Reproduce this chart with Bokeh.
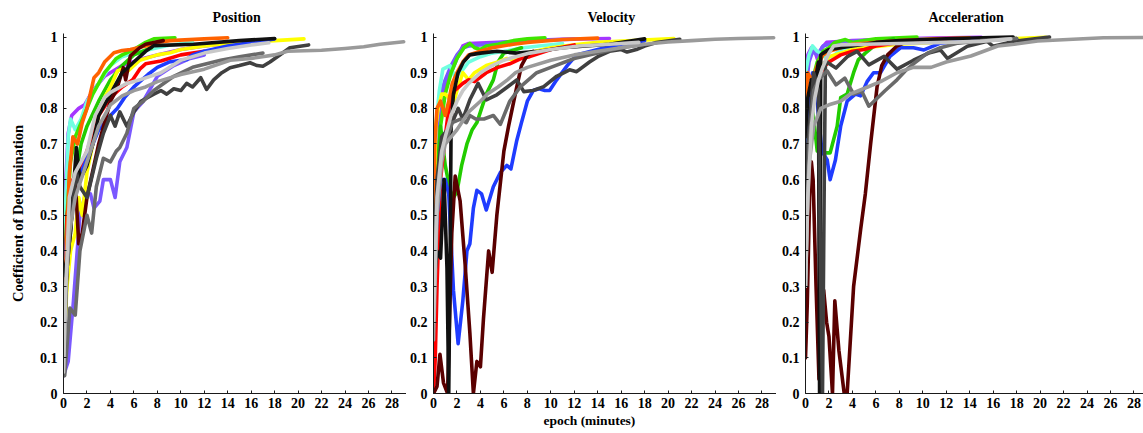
from bokeh.plotting import figure
from bokeh.layouts import row
from bokeh.models import FixedTicker, ColumnDataSource, Title
from bokeh.embed import file_html
from bokeh.resources import INLINE

# ---------------- labels ----------------
PANEL_TITLES = ["Position", "Velocity", "Acceleration"]
Y_LABEL = "Coefficient of Determination"
X_LABEL = "epoch (minutes)"
X_TICKS = [0, 2, 4, 6, 8, 10, 12, 14, 16, 18, 20, 22, 24, 26, 28]
Y_TICKS = [0, 0.1, 0.2, 0.3, 0.4, 0.5, 0.6, 0.7, 0.8, 0.9, 1.0]
Y_TICK_LABELS = ["0", "0.1", "0.2", "0.3", "0.4", "0.5", "0.6", "0.7", "0.8", "0.9", "1"]

# series draw order and colours
SERIES = ["purple", "slateblue", "cyan", "lime", "green", "yellow", "red", "blue",
          "orange", "maroon", "black", "darkgrey", "grey", "midgrey", "lightgrey"]
COLORS = ["#a535ff", "#7a58ff", "#70ffe0", "#3ee600", "#22cc00", "#ffff00", "#ff0000", "#1f3cff",
          "#ff6200", "#5a0000", "#101010", "#404040", "#6a6a6a", "#9a9a9a", "#c8c8c8"]

# ---------------- Position: (epoch minutes, R^2) ----------------
pos_purple = [(0, 0.3), (0.1, 0.45), (0.2, 0.6), (0.4, 0.73), (0.7, 0.78), (1.3, 0.8), (1.8, 0.81), (2.5, 0.85),
              (3.5, 0.89), (5, 0.92), (6.8, 0.94), (8, 0.95), (10, 0.965), (12, 0.975), (15, 0.985)]
pos_slateblue = [(0, 0.05), (0.2, 0.07), (0.4, 0.09), (0.85, 0.26), (1.4, 0.5), (1.8, 0.55), (2.3, 0.56),
                 (2.6, 0.52), (3.1, 0.54), (3.4, 0.6), (4, 0.6), (4.4, 0.55), (4.8, 0.65), (5.4, 0.69),
                 (6, 0.79), (6.8, 0.82), (8, 0.89), (9.4, 0.92), (10.8, 0.94), (12, 0.95)]
pos_cyan = [(0, 0.3), (0.2, 0.55), (0.4, 0.72), (0.6, 0.77), (1, 0.74), (1.5, 0.77), (2, 0.82), (3, 0.87),
            (4, 0.92), (5, 0.945), (6, 0.955), (7, 0.962), (8, 0.97), (9, 0.977), (11, 0.985)]
pos_lime = [(0, 0.3), (0.3, 0.5), (0.6, 0.65), (1, 0.72), (1.5, 0.76), (2, 0.8), (2.5, 0.84), (3, 0.87),
            (3.5, 0.9), (4, 0.92), (4.5, 0.94), (5, 0.95), (6, 0.965), (7, 0.985), (7.7, 0.995), (9.5, 0.998)]
pos_green = [(0, 0.25), (0.5, 0.45), (1, 0.6), (1.5, 0.7), (2, 0.75), (3, 0.82), (4, 0.88), (5, 0.92),
             (6, 0.95), (7.5, 0.97)]
pos_yellow = [(0, 0.12), (0.3, 0.3), (0.6, 0.4), (1, 0.45), (1.3, 0.55), (1.6, 0.5), (2, 0.62), (2.5, 0.7),
              (3, 0.78), (3.5, 0.83), (4, 0.86), (4.6, 0.905), (5, 0.91), (5.5, 0.905), (6.5, 0.935),
              (8, 0.95), (9.1, 0.956), (10, 0.965), (12, 0.975), (14, 0.982), (16, 0.987), (18, 0.99), (20.5, 0.995)]
pos_red = [(0, 0.15), (0.15, 0.35), (0.3, 0.5), (0.5, 0.55), (0.8, 0.6), (1.2, 0.62), (2, 0.68), (3, 0.78),
           (4, 0.83), (5, 0.86), (5.9, 0.88), (6.5, 0.91), (7, 0.925), (8.3, 0.933), (9, 0.94), (10, 0.95), (12, 0.96)]
pos_blue = [(0, 0.3), (0.3, 0.45), (0.6, 0.55), (1, 0.6), (1.5, 0.62), (2, 0.66), (3, 0.74), (4, 0.78),
            (4.6, 0.8), (5.2, 0.83), (6, 0.86), (7.2, 0.895), (8, 0.915), (9, 0.93), (10.5, 0.937), (11, 0.95),
            (12, 0.96), (14, 0.975), (16, 0.985), (18, 0.995)]
pos_orange = [(0, 0.2), (0.3, 0.45), (0.5, 0.62), (0.8, 0.72), (1.2, 0.7), (1.6, 0.76), (2, 0.8), (2.6, 0.886),
              (3, 0.9), (3.5, 0.93), (4.3, 0.956), (5, 0.962), (5.7, 0.965), (7, 0.975), (8, 0.985),
              (9.1, 0.99), (12, 0.995), (14, 0.998)]
pos_maroon = [(0, 0.2), (0.3, 0.35), (0.7, 0.5), (1, 0.6), (1.3, 0.42), (1.6, 0.45), (2, 0.55), (3, 0.7),
              (4, 0.82), (4.5, 0.85), (5.1, 0.914), (5.3, 0.88), (5.7, 0.947), (6.5, 0.97), (7, 0.98), (8.5, 0.99)]
pos_black = [(0, 0.33), (0.3, 0.38), (0.6, 0.45), (0.8, 0.55), (1.1, 0.69), (1.4, 0.6), (2, 0.64), (2.5, 0.7),
             (3, 0.78), (4, 0.84), (5, 0.9), (6, 0.93), (7, 0.96), (7.7, 0.976), (11.1, 0.98), (15, 0.99),
             (18, 0.996)]
pos_darkgrey = [(0, 0.05), (0.3, 0.35), (0.7, 0.5), (1.1, 0.62), (1.4, 0.58), (2, 0.55), (2.8, 0.66),
                (3.4, 0.73), (4, 0.78), (4.4, 0.75), (4.8, 0.79), (5.4, 0.75), (6, 0.79), (6.6, 0.82),
                (7.7, 0.84), (8.3, 0.85), (8.8, 0.84), (9.4, 0.855), (10, 0.85), (10.5, 0.87), (11, 0.86),
                (11.7, 0.886), (12.2, 0.853), (12.8, 0.88), (13.5, 0.9), (14.2, 0.914), (15, 0.92), (15.9, 0.928),
                (16.5, 0.92), (17, 0.918), (17.6, 0.93), (18.5, 0.951), (19.3, 0.97), (20.9, 0.978)]
pos_grey = [(0, 0.05), (0.1, 0.05), (0.55, 0.24), (1, 0.22), (1.4, 0.4), (2, 0.5), (2.4, 0.45), (2.8, 0.58),
            (3.4, 0.66), (4, 0.65), (4.5, 0.68), (4.8, 0.69), (5.4, 0.73), (6, 0.8), (6.8, 0.82), (7.7, 0.85),
            (9.4, 0.89), (11, 0.915), (13.4, 0.935), (15, 0.945), (17, 0.955)]
pos_midgrey = [(0, 0.07), (0.2, 0.3), (0.5, 0.45), (1, 0.55), (2, 0.65), (3, 0.75), (4, 0.81), (5, 0.835),
               (6, 0.85), (7, 0.86), (8, 0.875), (10, 0.895), (12, 0.91), (14.2, 0.935), (16, 0.94), (18, 0.95),
               (19.1, 0.96), (22, 0.963), (24, 0.968), (25.6, 0.973), (27, 0.98), (29, 0.987)]
pos_lightgrey = [(0, 0.06), (0.2, 0.3), (0.5, 0.55), (1, 0.62), (1.5, 0.65), (2, 0.68), (2.7, 0.78),
                 (3.5, 0.83), (4, 0.845), (5.4, 0.87), (6.5, 0.88), (8.3, 0.9), (10, 0.935), (12, 0.955),
                 (14, 0.968), (16, 0.978), (17.5, 0.984)]

# ---------------- Velocity ----------------
vel_purple = [(0, 0.5), (0.3, 0.72), (0.6, 0.82), (1, 0.86), (1.5, 0.9), (2, 0.94), (2.5, 0.975), (3, 0.982),
              (4, 0.983), (6, 0.986), (8, 0.99), (11, 0.994), (15, 0.996)]
vel_slateblue = [(0, 0.55), (0.3, 0.75), (0.7, 0.85), (1, 0.88), (1.5, 0.92), (2, 0.95), (2.5, 0.97),
                 (3, 0.975), (4, 0.978), (6, 0.985), (8, 0.99), (12, 0.994)]
vel_cyan = [(0, 0.55), (0.2, 0.75), (0.5, 0.85), (0.8, 0.91), (1.1, 0.915), (1.4, 0.92), (1.8, 0.89),
            (2.3, 0.9), (3, 0.93), (4, 0.945), (5, 0.955), (6, 0.96), (7.7, 0.97), (9, 0.975), (11, 0.982)]
vel_lime = [(0, 0.4), (0.3, 0.6), (0.6, 0.75), (1, 0.84), (1.5, 0.9), (2, 0.94), (2.6, 0.97), (3.1, 0.982),
            (3.5, 0.97), (4, 0.965), (4.5, 0.975), (5.5, 0.98), (6.8, 0.99), (8, 0.995), (9.5, 0.998)]
vel_green = [(0, 0.3), (0.3, 0.6), (0.6, 0.75), (1, 0.64), (1.42, 0.57), (1.7, 0.55), (2, 0.566), (2.4, 0.64),
             (2.85, 0.7), (3.3, 0.74), (3.7, 0.76), (4.1, 0.8), (4.5, 0.84), (5.1, 0.88), (5.5, 0.93),
             (6, 0.955), (7.5, 0.97)]
vel_yellow = [(0, 0.5), (0.2, 0.75), (0.4, 0.8), (0.7, 0.84), (1, 0.84), (1.3, 0.83), (1.6, 0.8), (2, 0.85),
              (2.5, 0.9), (3, 0.88), (3.5, 0.9), (4.5, 0.92), (5.5, 0.93), (6.25, 0.94), (7, 0.935), (8, 0.955),
              (10, 0.97), (12, 0.978), (14, 0.985), (17, 0.99), (20.5, 0.996)]
vel_red = [(0, 0.0), (0.15, 0.1), (0.3, 0.3), (0.6, 0.6), (1, 0.72), (1.3, 0.8), (1.8, 0.85), (2.5, 0.87),
           (3, 0.88), (3.5, 0.875), (4.5, 0.9), (5.5, 0.915), (6.5, 0.925), (7.5, 0.94), (8.2, 0.945),
           (10, 0.965), (12, 0.978)]
vel_blue = [(0, 0.3), (0.3, 0.5), (0.6, 0.6), (1, 0.6), (1.3, 0.56), (1.7, 0.29), (2.1, 0.14), (2.5, 0.26),
            (2.85, 0.4), (3.1, 0.42), (3.4, 0.52), (3.7, 0.57), (4.1, 0.56), (4.5, 0.515), (5.1, 0.58),
            (5.7, 0.62), (6.25, 0.64), (6.6, 0.63), (7.1, 0.71), (7.5, 0.76), (8, 0.82), (8.5, 0.85),
            (9, 0.855), (9.5, 0.85), (9.9, 0.85), (10.5, 0.88), (11.4, 0.92), (12.2, 0.95), (14, 0.965),
            (16, 0.98), (18, 0.99)]
vel_orange = [(0, 0.42), (0.1, 0.7), (0.3, 0.8), (0.6, 0.82), (1, 0.78), (1.3, 0.82), (1.6, 0.87), (2, 0.9),
              (2.5, 0.93), (3, 0.95), (4, 0.96), (5, 0.97), (6.8, 0.98), (8, 0.985), (11, 0.993), (14, 0.997)]
vel_maroon = [(0, 0.0), (0.3, 0.02), (0.55, 0.11), (0.85, 0.03), (1.2, 0.0), (1.56, 0.45), (1.85, 0.61),
              (2.27, 0.54), (2.7, 0.36), (3.1, 0.17), (3.4, 0.0), (3.7, 0.09), (4.0, 0.075), (4.26, 0.21),
              (4.7, 0.4), (5.0, 0.34), (5.4, 0.5), (6.0, 0.68), (6.4, 0.75), (7.1, 0.86), (7.5, 0.92),
              (8.0, 0.95), (8.5, 0.96)]
vel_black = [(0, 0.3), (0.3, 0.4), (0.6, 0.38), (0.9, 0.6), (1.15, 0.35), (1.3, 0.0), (1.42, 0.4), (1.5, 0.75),
             (1.7, 0.84), (2.1, 0.9), (2.55, 0.93), (3.1, 0.95), (4, 0.955), (5.4, 0.96), (7.1, 0.955),
             (9, 0.96), (11, 0.97), (13, 0.975), (15, 0.98), (18, 0.995)]
vel_darkgrey = [(0, 0.35), (0.3, 0.6), (0.7, 0.72), (1.2, 0.74), (1.6, 0.76), (2.1, 0.8), (2.5, 0.77),
                (3.1, 0.824), (3.8, 0.87), (4.5, 0.824), (5.4, 0.838), (6.3, 0.86), (7.1, 0.88), (7.7, 0.847),
                (8.5, 0.85), (9.4, 0.861), (10.5, 0.89), (11.6, 0.908), (12.2, 0.903), (13.3, 0.93), (14, 0.945),
                (15, 0.96), (16, 0.965), (16.5, 0.958), (17.3, 0.965), (18, 0.975), (19, 0.985), (21, 0.994)]
vel_grey = [(0, 0.3), (0.3, 0.55), (0.7, 0.68), (1.2, 0.72), (1.6, 0.76), (2.3, 0.77), (2.8, 0.76),
            (3.1, 0.78), (3.6, 0.77), (4.3, 0.77), (5.1, 0.78), (5.7, 0.755), (6.5, 0.82), (7.4, 0.86),
            (8.8, 0.9), (10, 0.915), (12, 0.94), (14, 0.955), (16, 0.97), (18, 0.98)]
vel_midgrey = [(0, 0.15), (0.3, 0.5), (0.7, 0.65), (1, 0.7), (1.5, 0.72), (2, 0.74), (3, 0.79), (4, 0.82),
               (4.6, 0.84), (5.5, 0.86), (6.3, 0.88), (7, 0.9), (8, 0.915), (10, 0.935), (12, 0.95), (14, 0.96),
               (16, 0.97), (18, 0.98), (20, 0.986), (22, 0.99), (24, 0.994), (26, 0.996), (29, 0.998)]
vel_lightgrey = [(0, 0.2), (0.3, 0.55), (0.7, 0.68), (1, 0.72), (1.5, 0.78), (2, 0.82), (2.5, 0.85), (3, 0.87),
                 (4, 0.9), (5, 0.92), (6, 0.935), (7, 0.945), (8.2, 0.955), (10, 0.965), (12.4, 0.975),
                 (15, 0.98), (17.5, 0.985)]

# ---------------- Acceleration ----------------
acc_purple = [(0, 0.88), (0.2, 0.95), (0.5, 0.97), (0.8, 0.96), (1.1, 0.93), (1.4, 0.97), (1.8, 0.985),
              (2.5, 0.987), (4, 0.99), (6, 0.992), (8, 0.995), (11, 0.997), (15, 0.999)]
acc_slateblue = [(0, 0.85), (0.3, 0.93), (0.6, 0.96), (1, 0.95), (1.5, 0.975), (2, 0.98), (3, 0.985),
                 (5, 0.99), (8, 0.993), (12, 0.996)]
acc_cyan = [(0, 0.9), (0.3, 0.95), (0.6, 0.975), (1, 0.96), (1.5, 0.95), (2.1, 0.93), (2.5, 0.95), (3, 0.965),
            (4, 0.975), (6, 0.985), (8, 0.99), (11, 0.995)]
acc_lime = [(0, 0.55), (0.3, 0.8), (0.6, 0.88), (1, 0.93), (1.5, 0.96), (2, 0.97), (2.5, 0.985), (3.4, 0.993),
            (4, 0.985), (5, 0.99), (6, 0.995), (8, 0.998), (9.5, 1.0)]
acc_green = [(0, 0.3), (0.3, 0.7), (0.6, 0.8), (1.0, 0.68), (1.4, 0.675), (2.1, 0.675), (2.7, 0.75), (3, 0.83),
             (3.55, 0.84), (4.1, 0.9), (4.5, 0.936), (5.1, 0.955), (5.8, 0.974), (7, 0.99), (7.5, 0.995)]
acc_yellow = [(0, 0.72), (0.2, 0.85), (0.5, 0.82), (0.8, 0.86), (1, 0.88), (1.5, 0.92), (2, 0.945), (2.5, 0.95),
              (3, 0.955), (4, 0.965), (5, 0.97), (8, 0.98), (11, 0.985), (14, 0.99), (17, 0.995), (20.5, 0.999)]
acc_red = [(0, 0.35), (0.2, 0.6), (0.4, 0.75), (0.7, 0.82), (1, 0.88), (1.3, 0.9), (1.7, 0.92), (2, 0.93),
           (2.5, 0.94), (3, 0.95), (4, 0.96), (5, 0.965), (6, 0.975), (8, 0.985), (10, 0.99), (12, 0.994)]
acc_blue = [(0, 0.5), (0.3, 0.8), (0.6, 0.9), (0.9, 0.88), (1.1, 0.78), (1.4, 0.68), (1.85, 0.655), (2.1, 0.6),
            (2.55, 0.655), (3, 0.75), (3.55, 0.82), (4.25, 0.84), (4.7, 0.835), (5.25, 0.875), (5.8, 0.9),
            (6.4, 0.9), (7.2, 0.946), (8.1, 0.97), (9.2, 0.97), (10.1, 0.964), (11.5, 0.983), (14, 0.99),
            (18, 0.996)]
acc_orange = [(0, 0.8), (0.2, 0.9), (0.5, 0.88), (0.8, 0.9), (1, 0.92), (1.5, 0.95), (2, 0.96), (3, 0.97),
              (4, 0.98), (6, 0.985), (8, 0.99), (11, 0.995), (14, 0.998)]
acc_maroon = [(0, 0.1), (0.15, 0.25), (0.35, 0.55), (0.5, 0.65), (0.65, 0.6), (0.9, 0.3), (1.15, 0.04),
              (1.35, 0.15), (1.55, 0.29), (1.8, 0.2), (2.0, 0.16), (2.3, 0.0), (2.5, 0.26), (2.85, 0.12),
              (3.3, 0.0), (3.55, 0.0), (4.1, 0.3), (4.7, 0.46), (5.1, 0.56), (5.55, 0.7), (6.1, 0.86),
              (6.5, 0.92), (7, 0.95), (7.8, 0.975), (8.5, 0.985)]
acc_black = [(0, 0.72), (0.2, 0.83), (0.5, 0.88), (0.8, 0.87), (1.1, 0.93), (1.2, 0.0), (1.3, 0.95),
             (1.5, 0.955), (2, 0.965), (3, 0.97), (4, 0.975), (6, 0.985), (8, 0.99), (12, 0.995), (15, 0.998),
             (17.7, 1.0)]
acc_darkgrey = [(0, 0.45), (0.2, 0.7), (0.5, 0.82), (0.7, 0.9), (1.1, 0.85), (1.3, 0.3), (1.45, 0.0),
                (1.6, 0.6), (1.7, 0.932), (2.6, 0.913), (3.6, 0.946), (4.4, 0.96), (5.4, 0.922), (6.7, 0.946),
                (7.8, 0.91), (9.2, 0.935), (10.5, 0.955), (11.5, 0.964), (12.1, 0.94), (13.8, 0.974),
                (15.5, 0.988), (16, 0.974), (17.8, 0.988), (20.8, 1.0)]
acc_grey = [(0, 0.3), (0.3, 0.7), (0.7, 0.85), (1.1, 0.88), (1.85, 0.905), (2.6, 0.866), (3.35, 0.885),
            (4.1, 0.84), (4.8, 0.848), (5.4, 0.806), (6.8, 0.85), (7.8, 0.88), (8.5, 0.905), (9.2, 0.925),
            (10.4, 0.955), (11.5, 0.97), (13, 0.983), (15, 0.99), (18, 0.996)]
acc_midgrey = [(0, 0.3), (0.15, 0.5), (0.3, 0.64), (0.7, 0.75), (1.3, 0.8), (2, 0.81), (3, 0.82), (3.8, 0.84),
               (5.3, 0.86), (6.4, 0.875), (7.8, 0.9), (9.2, 0.915), (10.7, 0.915), (12, 0.93), (14.1, 0.947),
               (16.4, 0.975), (17.8, 0.98), (19.8, 0.989), (25.4, 0.998), (29, 0.999)]
acc_lightgrey = [(0, 0.3), (0.2, 0.55), (0.5, 0.75), (0.8, 0.83), (1.1, 0.88), (1.45, 0.914), (2, 0.955),
                 (2.4, 0.975), (3, 0.978), (5, 0.98), (8, 0.982), (12, 0.985), (14.9, 0.988), (17.5, 0.995)]

POSITION = [pos_purple, pos_slateblue, pos_cyan, pos_lime, pos_green, pos_yellow, pos_red, pos_blue,
            pos_orange, pos_maroon, pos_black, pos_darkgrey, pos_grey, pos_midgrey, pos_lightgrey]
VELOCITY = [vel_purple, vel_slateblue, vel_cyan, vel_lime, vel_green, vel_yellow, vel_red, vel_blue,
            vel_orange, vel_maroon, vel_black, vel_darkgrey, vel_grey, vel_midgrey, vel_lightgrey]
ACCELERATION = [acc_purple, acc_slateblue, acc_cyan, acc_lime, acc_green, acc_yellow, acc_red, acc_blue,
                acc_orange, acc_maroon, acc_black, acc_darkgrey, acc_grey, acc_midgrey, acc_lightgrey]

FONT = "Liberation Serif"
H = 433
TOP = 33
BOTTOM = 40
PX_PER_UNIT = 11.73


def make_panel(title, title_offset, width, left, frame_w, data):
    p = figure(width=width, height=H, x_range=(0, frame_w / PX_PER_UNIT), y_range=(0, 1.01),
               output_backend="svg", toolbar_location=None, title=None,
               min_border_left=left, min_border_right=0, min_border_top=TOP, min_border_bottom=BOTTOM)
    p.grid.visible = False
    p.outline_line_color = None
    p.background_fill_color = "white"
    p.border_fill_color = "white"
    p.add_layout(Title(text=title, align="left", offset=title_offset, standoff=14, vertical_align="top",
                       text_font=FONT, text_font_style="bold", text_font_size="14px",
                       text_color="black"), "above")
    for pts, col in zip(data, COLORS):
        src = ColumnDataSource(dict(x=[a for a, b in pts], y=[b for a, b in pts]))
        p.line("x", "y", source=src, line_color=col, line_width=3.6, line_join="round", line_cap="round")
    for ax in (p.xaxis[0], p.yaxis[0]):
        ax.axis_line_color = "#1a1a1a"
        ax.axis_line_width = 1
        ax.major_tick_line_color = "#1a1a1a"
        ax.major_tick_in = 3
        ax.major_tick_out = 0
        ax.minor_tick_line_color = None
        ax.major_label_text_font = FONT
        ax.major_label_text_font_style = "bold"
        ax.major_label_text_font_size = "14px"
        ax.major_label_text_color = "black"
        ax.axis_label_text_font = FONT
        ax.axis_label_text_font_style = "bold"
        ax.axis_label_text_color = "black"
    p.xaxis.ticker = FixedTicker(ticks=X_TICKS)
    p.xaxis.major_label_overrides = {t: str(t) for t in X_TICKS}
    p.xaxis.major_label_standoff = 4
    p.yaxis.ticker = FixedTicker(ticks=Y_TICKS)
    p.yaxis.major_label_overrides = {t: s for t, s in zip(Y_TICKS, Y_TICK_LABELS)}
    p.yaxis.major_label_standoff = 6
    return p


# frames: panel 1 at x 63..406, panel 2 at 433..776, panel 3 at 805..1143
p1 = make_panel(PANEL_TITLES[0], 149, 406, 63, 343, POSITION)
p2 = make_panel(PANEL_TITLES[1], 154, 370, 27, 343, VELOCITY)
p3 = make_panel(PANEL_TITLES[2], 123, 367, 29, 338, ACCELERATION)

p1.yaxis.axis_label = Y_LABEL
p1.yaxis.axis_label_text_font_size = "14.5px"
p1.yaxis.axis_label_standoff = 11
p2.add_layout(Title(text=X_LABEL, align="left", offset=110, standoff=4, vertical_align="top",
                    text_font=FONT, text_font_style="bold", text_font_size="13.5px",
                    text_color="black"), "below")

layout = row(p1, p2, p3)
open("out.html", "w").write(file_html(layout, INLINE))
